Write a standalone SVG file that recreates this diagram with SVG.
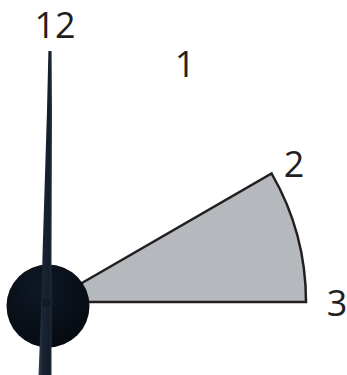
<svg xmlns="http://www.w3.org/2000/svg" width="347" height="375" viewBox="0 0 347 375">
  <style>
    .lbl { font-family: "Open Sans", "Liberation Sans", sans-serif; font-size: 36px; fill: #231f20; text-anchor: middle; }
    .sector { fill: #b5b8bc; stroke: #231f20; stroke-width: 2.5; stroke-linejoin: miter; }
    .hand { fill: url(#handGrad); }
  </style>
  <defs>
    <linearGradient id="handGrad" x1="0" y1="0" x2="1" y2="0">
      <stop offset="0" stop-color="#34404e"/>
      <stop offset="0.3" stop-color="#1a2432"/>
      <stop offset="0.8" stop-color="#141e2b"/>
      <stop offset="1" stop-color="#283442"/>
    </linearGradient>
    <radialGradient id="dialGrad" cx="0.4" cy="0.3" r="0.8">
      <stop offset="0" stop-color="#0f1825"/>
      <stop offset="1" stop-color="#05090f"/>
    </radialGradient>
  </defs>

  <g id="connectors"></g>

  <g id="sector">
    <path class="sector" d="M49,302 L271.6,173.5 A257,257 0 0 1 306,302 Z"/>
  </g>

  <g id="mechanism">
    <circle cx="48" cy="306" r="41.5" fill="url(#dialGrad)"/>
    <path class="hand" d="M48.4,51 L51.6,51 L52,110 L51.5,260 L51.5,375 L38.5,375 L41.5,300 L42.5,255 L47,110 Z"/>
    <circle cx="46.5" cy="303" r="5.5" fill="#121c28" stroke="#202b38" stroke-width="1"/>
  </g>

  <g id="label-12"><text class="lbl" x="55" y="38">12</text></g>
  <g id="label-1"><text class="lbl" x="185" y="77">1</text></g>
  <g id="label-2"><text class="lbl" x="294" y="177">2</text></g>
  <g id="label-3"><text class="lbl" x="337" y="316">3</text></g>
</svg>
